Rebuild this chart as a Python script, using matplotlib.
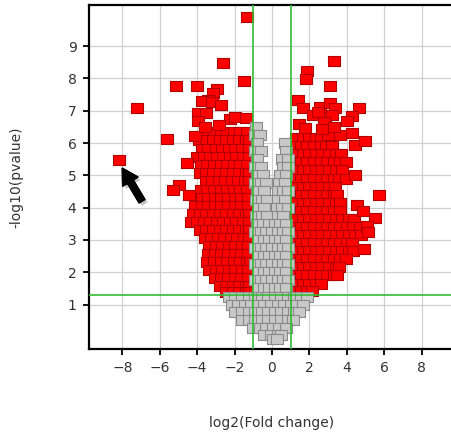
import numpy as np
import matplotlib
matplotlib.use('Agg')
import matplotlib.pyplot as plt
import matplotlib.patheffects as pe

# significant, down-regulated: dense band, one row per -log10(p) level
left_red_rows = [
    (6.35, [-3.45, -3.1, -2.75, -2.4, -2.05, -1.7, -1.35]),
    (6.08, [-3.9, -3.5, -3.15, -2.8, -2.45, -2.1, -1.75, -1.4, -1.2]),
    (5.82, [-3.75, -3.4, -3.0, -2.65, -2.3, -1.95, -1.6, -1.25]),
    (5.57, [-4.0, -3.65, -3.3, -2.95, -2.6, -2.25, -1.9, -1.55, -1.25]),
    (5.31, [-3.8, -3.45, -3.1, -2.75, -2.4, -2.05, -1.7, -1.35]),
    (5.06, [-3.85, -3.5, -3.15, -2.8, -2.45, -2.1, -1.75, -1.4, -1.2]),
    (4.81, [-3.55, -3.2, -2.85, -2.5, -2.15, -1.8, -1.45, -1.2]),
    (4.56, [-3.8, -3.45, -3.1, -2.75, -2.4, -2.05, -1.7, -1.35]),
    (4.31, [-3.75, -3.4, -3.05, -2.7, -2.35, -2.0, -1.65, -1.3]),
    (4.06, [-4.1, -3.75, -3.4, -3.05, -2.7, -2.35, -2.0, -1.65, -1.3]),
    (3.81, [-4.2, -3.85, -3.5, -3.15, -2.8, -2.45, -2.1, -1.75, -1.4, -1.2]),
    (3.56, [-4.35, -4.0, -3.65, -3.3, -2.95, -2.6, -2.25, -1.9, -1.55, -1.25]),
    (3.31, [-3.85, -3.5, -3.15, -2.8, -2.45, -2.1, -1.75, -1.4, -1.2]),
    (3.06, [-3.6, -3.25, -2.9, -2.55, -2.2, -1.85, -1.5, -1.25]),
    (2.81, [-3.35, -3.0, -2.65, -2.3, -1.95, -1.6, -1.3]),
    (2.56, [-3.4, -3.05, -2.7, -2.35, -2.0, -1.65, -1.3]),
    (2.31, [-3.45, -3.1, -2.75, -2.4, -2.05, -1.7, -1.35, -1.15]),
    (2.06, [-3.35, -3.0, -2.65, -2.3, -1.95, -1.6, -1.3]),
    (1.81, [-3.05, -2.7, -2.35, -2.0, -1.65, -1.3]),
    (1.58, [-2.8, -2.45, -2.1, -1.75, -1.4, -1.2]),
    (1.40, [-2.45, -2.1, -1.75, -1.4, -1.2]),
]

left_red_extra_x = [-1.32, -2.6, -1.5, -5.13, -4.03, -2.96, -3.14, -3.4, -3.76, -3.23,
                    -2.7, -3.94, -3.5, -3.94, -2.25, -1.98, -1.39, -7.24, -8.16, -5.6,
                    -4.12, -4.56, -4.95, -5.28, -4.44, -2.85, -3.6]
left_red_extra_y = [9.9, 8.47, 7.92, 7.77, 7.77, 7.67, 7.54, 7.34, 7.29, 7.27,
                    7.18, 6.92, 6.92, 6.67, 6.74, 6.82, 6.77, 7.07, 5.48, 6.12,
                    6.22, 5.37, 4.7, 4.55, 4.4, 6.55, 6.5]

# significant, up-regulated
right_red_rows = [
    (6.15, [1.3, 1.65, 2.0, 2.35, 2.6]),
    (5.90, [1.2, 1.55, 1.9, 2.25, 2.6, 2.9, 3.2]),
    (5.65, [1.3, 1.65, 2.0, 2.35, 2.7, 3.05, 3.4, 3.7]),
    (5.40, [1.2, 1.55, 1.9, 2.25, 2.6, 2.95, 3.3, 3.65, 3.95]),
    (5.15, [1.3, 1.65, 2.0, 2.35, 2.7, 3.05, 3.4, 3.75]),
    (4.90, [1.2, 1.55, 1.9, 2.25, 2.6, 2.95, 3.3, 3.6, 3.95]),
    (4.65, [1.3, 1.65, 2.0, 2.35, 2.7, 3.05, 3.35]),
    (4.40, [1.2, 1.55, 1.9, 2.25, 2.6, 2.95, 3.3, 3.5]),
    (4.15, [1.3, 1.65, 2.0, 2.35, 2.7, 3.05, 3.4, 3.65]),
    (3.90, [1.2, 1.55, 1.9, 2.25, 2.6, 2.95, 3.3, 3.65]),
    (3.65, [1.3, 1.65, 2.0, 2.35, 2.7, 3.05, 3.4, 3.75, 4.1, 4.4]),
    (3.40, [1.2, 1.55, 1.9, 2.25, 2.6, 2.95, 3.3, 3.65, 4.0, 4.35, 4.7]),
    (3.15, [1.3, 1.65, 2.0, 2.35, 2.7, 3.05, 3.4, 3.75, 4.1, 4.45, 4.75]),
    (2.90, [1.2, 1.55, 1.9, 2.25, 2.6, 2.95, 3.3, 3.65, 4.0, 4.3]),
    (2.65, [1.3, 1.65, 2.0, 2.35, 2.7, 3.05, 3.4, 3.75, 4.1, 4.35]),
    (2.40, [1.2, 1.55, 1.9, 2.25, 2.6, 2.95, 3.3, 3.65, 3.95]),
    (2.15, [1.3, 1.65, 2.0, 2.35, 2.7, 3.05, 3.4, 3.6]),
    (1.90, [1.2, 1.55, 1.9, 2.25, 2.6, 2.95, 3.3, 3.5]),
    (1.65, [1.3, 1.65, 2.0, 2.35, 2.6]),
    (1.42, [1.2, 1.55, 1.9, 2.15]),
]

right_red_extra_x = [3.3, 1.89, 1.8, 3.1, 1.37, 1.68, 2.57, 3.1, 3.37, 4.65,
                     4.26, 2.21, 2.83, 3.19, 3.99, 2.8, 1.44, 1.76, 3.01, 3.64,
                     4.26, 4.44, 4.97, 3.32, 2.45, 5.74, 4.56, 4.88, 5.51, 5.06,
                     5.15, 4.94, 4.44, 2.7]
right_red_extra_y = [8.54, 8.22, 7.97, 7.77, 7.32, 7.08, 7.13, 7.25, 7.08, 7.08,
                     6.84, 6.87, 6.82, 6.87, 6.68, 6.64, 6.59, 6.46, 6.25, 6.25,
                     6.31, 5.94, 6.05, 6.51, 6.95, 4.38, 4.07, 3.91, 3.67, 3.42,
                     3.26, 2.71, 5.02, 6.45]

# not significant
gray_rows = [
    (6.50, [-0.85]),
    (6.25, [-0.9, -0.65]),
    (6.00, [-0.8, 0.7]),
    (5.75, [-0.9, -0.6, 0.75]),
    (5.50, [-0.8, 0.55, 0.85]),
    (5.25, [-0.9, -0.6, 0.6, 0.85]),
    (5.00, [-0.8, -0.5, 0.45, 0.75]),
    (4.75, [-0.9, -0.6, -0.3, 0.4, 0.7]),
    (4.50, [-0.8, -0.45, 0.3, 0.6, 0.85]),
    (4.25, [-0.85, -0.55, -0.25, 0.35, 0.7]),
    (4.00, [-0.75, -0.45, 0.25, 0.55, 0.85]),
    (3.75, [-0.85, -0.55, -0.25, 0.3, 0.6]),
    (3.50, [-0.8, -0.5, -0.15, 0.15, 0.45, 0.75]),
    (3.25, [-0.9, -0.6, -0.3, 0.0, 0.3, 0.6, 0.85]),
    (3.00, [-0.75, -0.45, -0.15, 0.15, 0.45, 0.75]),
    (2.75, [-0.9, -0.6, -0.3, 0.0, 0.3, 0.6, 0.85]),
    (2.50, [-0.75, -0.45, -0.15, 0.15, 0.45, 0.75]),
    (2.25, [-0.9, -0.6, -0.3, 0.0, 0.3, 0.6, 0.85]),
    (2.00, [-0.75, -0.45, -0.15, 0.15, 0.45, 0.75]),
    (1.75, [-0.9, -0.6, -0.3, 0.0, 0.3, 0.6, 0.85]),
    (1.50, [-0.75, -0.45, -0.15, 0.15, 0.45, 0.75]),
    (1.22, [-2.3, -1.95, -1.6, -1.25, -0.9, -0.55, -0.2, 0.15, 0.5, 0.85, 1.2, 1.55, 1.85]),
    (1.00, [-2.15, -1.8, -1.45, -1.1, -0.75, -0.4, -0.05, 0.3, 0.65, 1.0, 1.35, 1.65]),
    (0.76, [-1.95, -1.6, -1.25, -0.9, -0.55, -0.2, 0.15, 0.5, 0.85, 1.2, 1.45]),
    (0.52, [-1.6, -1.25, -0.9, -0.55, -0.2, 0.15, 0.5, 0.85, 1.1]),
    (0.28, [-1.0, -0.65, -0.3, 0.05, 0.4, 0.75]),
    (0.06, [-0.4, -0.05, 0.3, 0.5]),
    (-0.06, [0.05, 0.25]),
]

fc_cut = 1.0
p_cut = 1.3
xticks = [-8, -6, -4, -2, 0, 2, 4, 6, 8]
yticks = [1, 2, 3, 4, 5, 6, 7, 8, 9]


def flatten(rows):
    xs, ys = [], []
    for y, row in rows:
        xs.extend(row)
        ys.extend([y] * len(row))
    return xs, ys


lx, ly = flatten(left_red_rows)
rx, ry = flatten(right_red_rows)
red_x = lx + left_red_extra_x + rx + right_red_extra_x
red_y = ly + left_red_extra_y + ry + right_red_extra_y
gray_x, gray_y = flatten(gray_rows)

# slightly flat square marker, like the original
box = [(-1, -0.8), (1, -0.8), (1, 0.8), (-1, 0.8), (-1, -0.8)]

fig = plt.figure(figsize=(4.52, 4.36), dpi=100)
ax = fig.add_axes([0.197, 0.2, 0.808, 0.789])

ax.scatter(red_x, red_y, marker=box, s=70, c='#ff0000', edgecolors='#b00000',
           linewidths=0.8, zorder=3)
ax.scatter(gray_x, gray_y, marker=box, s=70, c='#c8c8c8', edgecolors='#8a8a8a',
           linewidths=0.8, zorder=3)

ax.axvline(-fc_cut, color='#33bb33', lw=1.2, zorder=4)
ax.axvline(fc_cut, color='#33bb33', lw=1.2, zorder=4)
ax.axhline(p_cut, color='#33bb33', lw=1.2, zorder=4)

ax.set_xlim(-9.78, 9.75)
ax.set_ylim(-0.37, 10.28)
ax.set_xticks(xticks)
ax.set_yticks(yticks)
ax.grid(True, color='#d0d0d0', lw=0.9, zorder=0)
ax.set_axisbelow(True)

for side in ['left', 'bottom', 'top']:
    ax.spines[side].set_linewidth(1.6)
    ax.spines[side].set_color('black')
ax.spines['right'].set_visible(False)
ax.tick_params(direction='out', length=4, width=1.3, labelsize=10,
               labelcolor='#333333', pad=5)

ax.set_xlabel('log2(Fold change)', fontsize=10, color='#333333', labelpad=29)
ax.set_ylabel('-log10(pvalue)', fontsize=10, color='#333333', labelpad=32)

ann = ax.annotate('', xy=(-8.0, 5.22), xytext=(-6.95, 4.2),
                  arrowprops=dict(arrowstyle='simple,head_length=0.7,head_width=0.8,tail_width=0.3',
                                  fc='black', ec='black', mutation_scale=16,
                                  shrinkA=0, shrinkB=0))
ann.arrow_patch.set_path_effects([pe.withSimplePatchShadow(offset=(2, -2), shadow_rgbFace='#888888', alpha=0.5),
                                  pe.Normal()])

fig.savefig('out.png', dpi=100)
